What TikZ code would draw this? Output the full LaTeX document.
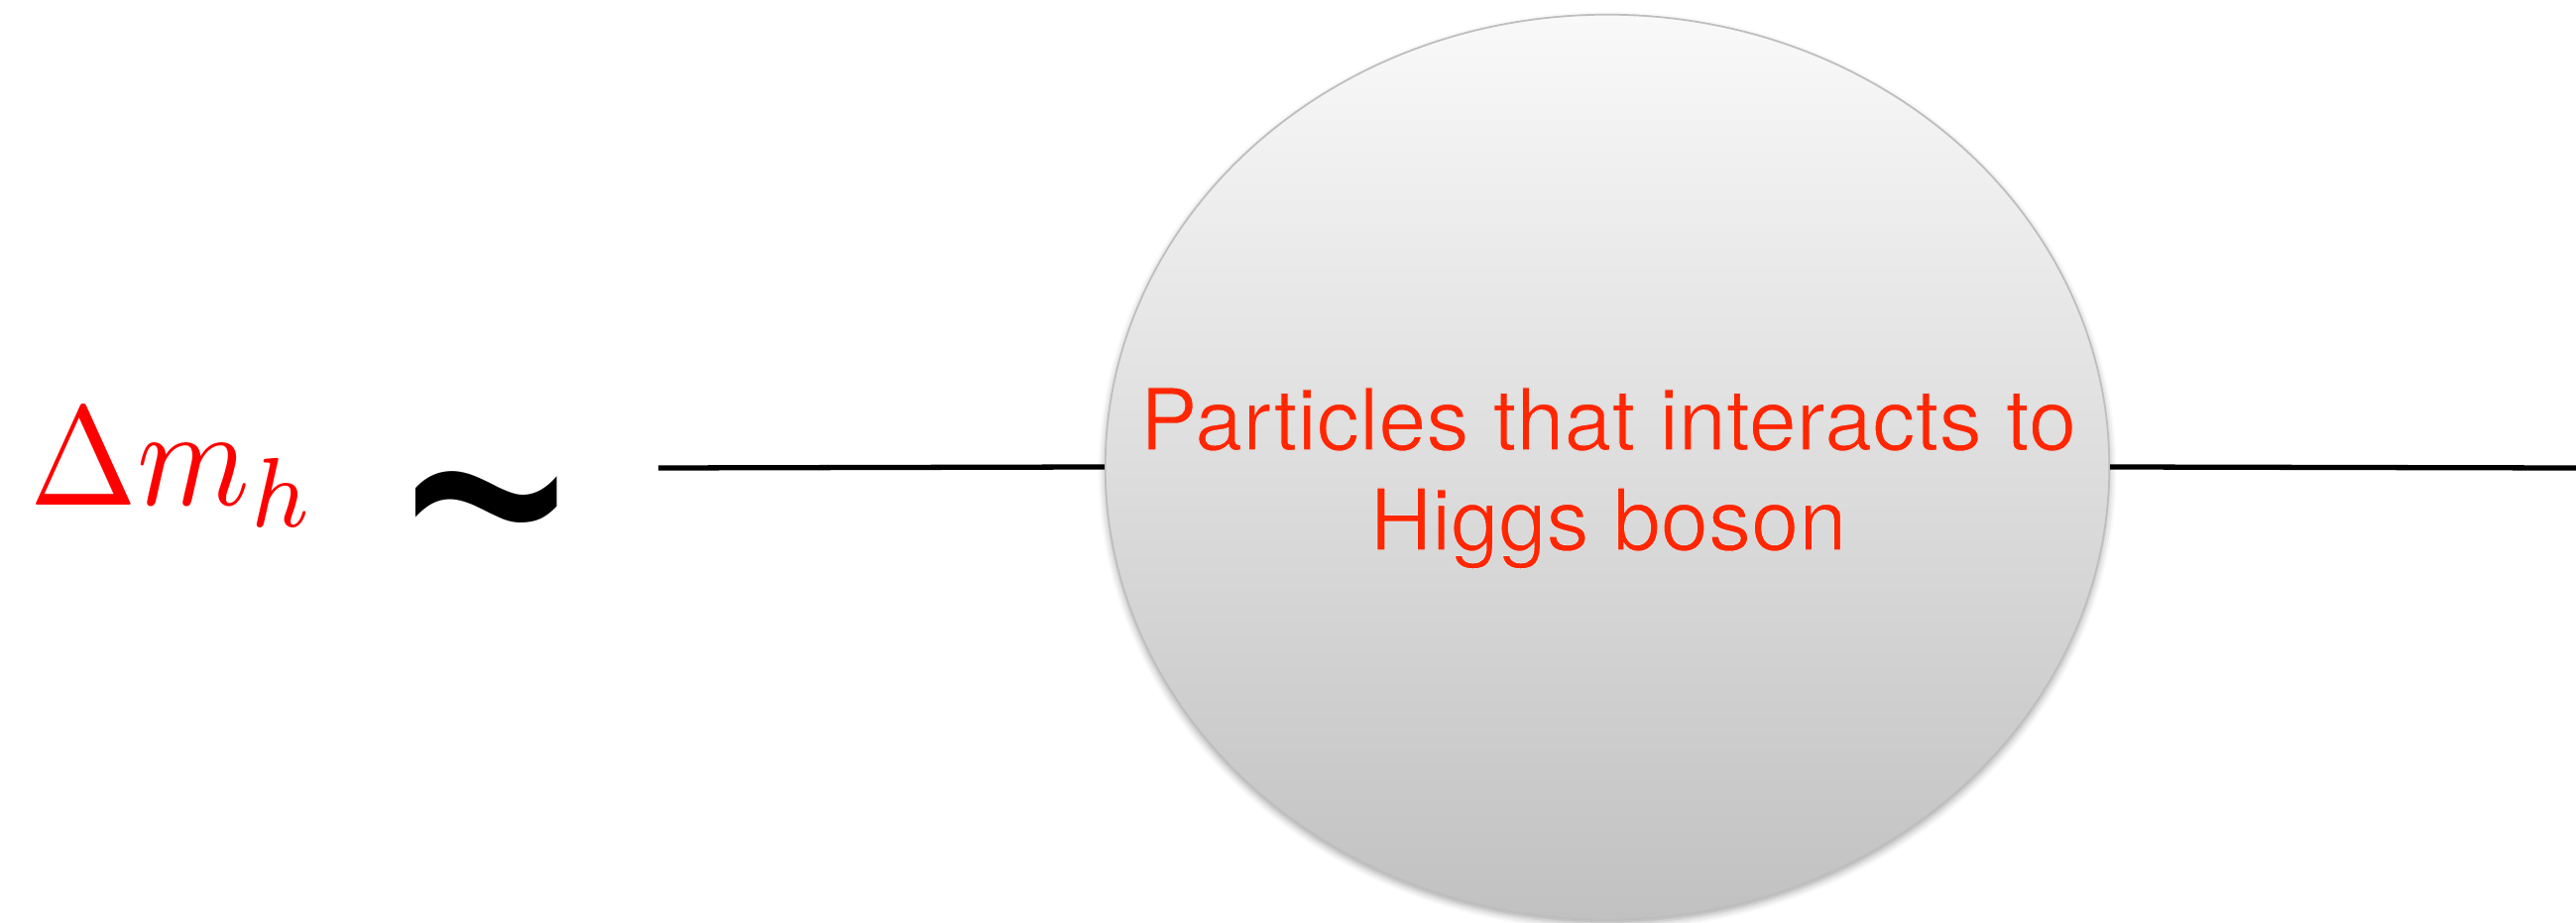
\documentclass[tikz,border=0pt]{standalone}
\usepackage{graphicx}
\usepackage{fontspec}
\newfontfamily\heros{TeX Gyre Heros}
\newfontfamily\arialfam{Liberation Sans}
\usetikzlibrary{shapes.geometric,shadows.blur}
\definecolor{labelred}{RGB}{255,38,0}
\definecolor{blobtop}{RGB}{249,249,249}
\definecolor{blobbottom}{RGB}{193,193,193}
\definecolor{blobrim}{RGB}{190,190,190}
% thin the glyph outlines by stroking them in the colour of the fill behind
\newcommand{\lighttext}[1]{\special{pdf:literal q 2 Tr 0.32 w 0.865 0.865 0.865 RG}#1\special{pdf:literal 0 Tr Q}}
\tikzset{
  blob/.style={ellipse, inner sep=0pt, minimum width=10.12cm, minimum height=9.12cm,
    top color=blobtop, bottom color=blobbottom, draw=blobrim, line width=0.5pt,
    blur shadow={shadow xshift=0pt, shadow yshift=-1.2pt, shadow blur radius=2pt, shadow opacity=35}},
  blablabel/.style={text=labelred, inner sep=0pt, font=\heros\fontsize{24.6}{29}\selectfont},
  wire/.style={line width=1.5pt, black},
}
\begin{document}
\begin{tikzpicture}[x=0.01cm, y=-0.01cm]
  \useasboundingbox (0,0) rectangle (2598,931);
  % loop blob with the two external legs
  \coordinate (lend) at (664,472);
  \coordinate (rend) at (2598,472);
  \node[blob] (blob) at (1621,471) {};
  \draw[wire] (lend) -- (blob.west);
  \draw[wire] (blob.east) -- (rend);
  % left-hand expression
  \node[anchor=base west, inner sep=0pt, text=red] (dm) at (30,510) {\scalebox{3.68}[4.05]{$\Delta m_h$}};
  \node[anchor=center, inner sep=0pt] (sim) at (491,558) {\scalebox{8.2}[11.9]{\arialfam\char`\~}};
  % label inside the blob
  \node[blablabel, anchor=base] (l1) at (1622,454) {\lighttext{Particles that interacts to}};
  \node[blablabel, anchor=base] (l2) at (1622,555) {\lighttext{Higgs boson}};
\end{tikzpicture}
\end{document}
